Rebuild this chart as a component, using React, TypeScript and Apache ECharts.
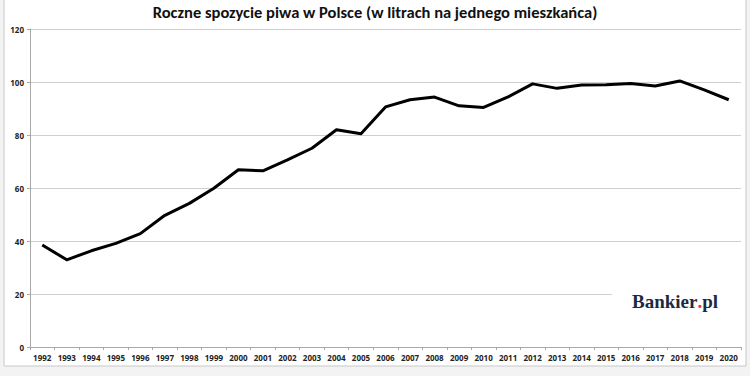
import React, { useEffect, useRef } from "react";
import * as echarts from "echarts";

const years = ["1992","1993","1994","1995","1996","1997","1998","1999","2000","2001","2002","2003","2004","2005","2006","2007","2008","2009","2010","2011","2012","2013","2014","2015","2016","2017","2018","2019","2020"];
const consumption = [38.5, 32.9, 36.3, 39.1, 42.8, 49.7, 54.2, 59.9, 66.9, 66.5, 70.6, 75.0, 82.0, 80.5, 90.6, 93.3, 94.3, 91.0, 90.4, 94.4, 99.3, 97.6, 98.9, 99.0, 99.4, 98.5, 100.4, 97.0, 93.3];
const yTicks = { min: 0, max: 120, interval: 20 };
const titleText = "Roczne spozycie piwa w Polsce (w litrach na jednego mieszkańca)";

export default function App() {
  const ref = useRef<HTMLDivElement>(null);
  useEffect(() => {
    document.body.style.margin = "0";
    const chart = echarts.init(ref.current!, null, { renderer: "svg" });
    chart.setOption({
      animation: false,
      backgroundColor: "#f3f3f3",
      title: {
        text: titleText,
        left: "center",
        top: -2,
        textStyle: { fontFamily: "Carlito, 'Open Sans', sans-serif", fontSize: 16.5, fontWeight: "bold", color: "#111" },
      },
      graphic: [
        { type: "rect", z: -10, shape: { x: 4, y: -2, width: 742, height: 368 }, style: { fill: "#ffffff", stroke: "#c8c8c8", lineWidth: 1 } },
        { type: "rect", z: 10, shape: { x: 612, y: 286, width: 130, height: 46 }, style: { fill: "#ffffff" } },
        {
          type: "text", z: 11, left: 632, top: 292,
          style: {
            text: "{a|Bankier}{b|.}{a|pl}",
            rich: {
              a: { fontFamily: "'Liberation Serif', serif", fontSize: 19, fontWeight: "bold", fill: "#1d2942" },
              b: { fontFamily: "'Liberation Serif', serif", fontSize: 19, fontWeight: "bold", fill: "#d9352b" },
            },
          },
        },
      ],
      grid: { left: 30, right: 9, top: 29, bottom: 29 },
      xAxis: {
        type: "category",
        data: years,
        boundaryGap: true,
        axisLine: { lineStyle: { color: "#a8a8a8" } },
        axisTick: { show: true, length: 3, lineStyle: { color: "#a8a8a8" } },
        axisLabel: { fontSize: 8, color: "#222", fontWeight: "bold", margin: 6, interval: 0, fontFamily: "'Open Sans', sans-serif" },
      },
      yAxis: {
        type: "value",
        min: yTicks.min,
        max: yTicks.max,
        interval: yTicks.interval,
        axisLine: { show: true, lineStyle: { color: "#a8a8a8" } },
        axisTick: { show: true, length: 3, lineStyle: { color: "#a8a8a8" } },
        axisLabel: { fontSize: 8, color: "#222", fontWeight: "bold", margin: 6, fontFamily: "'Open Sans', sans-serif" },
        splitLine: { lineStyle: { color: "#cfcfcf", width: 1 } },
      },
      series: [
        {
          type: "line",
          data: consumption,
          symbol: "none",
          lineStyle: { color: "#000", width: 3, join: "round" },
        },
      ],
    });
    return () => chart.dispose();
  }, []);
  return <div ref={ref} style={{ width: 750, height: 376 }} />;
}
